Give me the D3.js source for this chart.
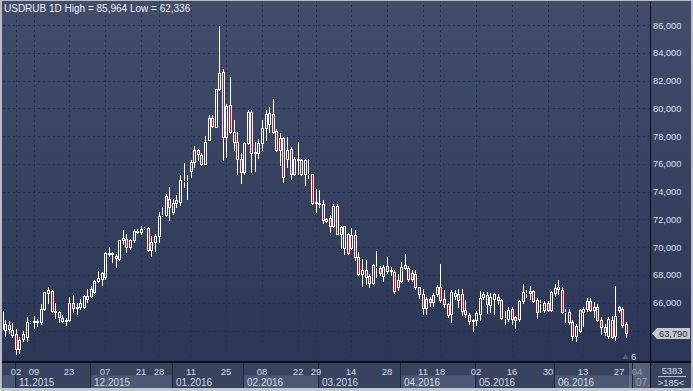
<!DOCTYPE html>
<html><head><meta charset="utf-8">
<script src="https://cdn.jsdelivr.net/npm/d3@7"></script>
<style>html,body{margin:0;padding:0;background:#2d3857;overflow:hidden}svg{display:block}text{font-family:"Liberation Sans",Arial,sans-serif}</style>
</head><body><svg id="c" width="693" height="391"></svg>
<script>
const dates = [
"2015-10-27","2015-10-28","2015-10-29","2015-10-30",
"2015-11-02","2015-11-03","2015-11-04","2015-11-05","2015-11-06","2015-11-09","2015-11-10","2015-11-11","2015-11-12","2015-11-13","2015-11-16","2015-11-17","2015-11-18","2015-11-19","2015-11-20","2015-11-23","2015-11-24","2015-11-25","2015-11-26","2015-11-27","2015-11-30",
"2015-12-01","2015-12-02","2015-12-03","2015-12-04","2015-12-07","2015-12-08","2015-12-09","2015-12-10","2015-12-11","2015-12-14","2015-12-15","2015-12-16","2015-12-17","2015-12-18","2015-12-21","2015-12-22","2015-12-23","2015-12-24","2015-12-25","2015-12-28","2015-12-29","2015-12-30","2015-12-31",
"2016-01-04","2016-01-05","2016-01-06","2016-01-07","2016-01-08","2016-01-11","2016-01-12","2016-01-13","2016-01-14","2016-01-15","2016-01-18","2016-01-19","2016-01-20","2016-01-21","2016-01-22","2016-01-25","2016-01-26","2016-01-27","2016-01-28","2016-01-29",
"2016-02-01","2016-02-02","2016-02-03","2016-02-04","2016-02-05","2016-02-08","2016-02-09","2016-02-10","2016-02-11","2016-02-12","2016-02-15","2016-02-16","2016-02-17","2016-02-18","2016-02-19","2016-02-22","2016-02-23","2016-02-24","2016-02-25","2016-02-26","2016-02-29",
"2016-03-01","2016-03-02","2016-03-03","2016-03-04","2016-03-07","2016-03-08","2016-03-09","2016-03-10","2016-03-11","2016-03-14","2016-03-15","2016-03-16","2016-03-17","2016-03-18","2016-03-21","2016-03-22","2016-03-23","2016-03-24","2016-03-25","2016-03-28","2016-03-29","2016-03-30","2016-03-31",
"2016-04-01","2016-04-04","2016-04-05","2016-04-06","2016-04-07","2016-04-08","2016-04-11","2016-04-12","2016-04-13","2016-04-14","2016-04-15","2016-04-18","2016-04-19","2016-04-20","2016-04-21","2016-04-22","2016-04-25","2016-04-26","2016-04-27","2016-04-28","2016-04-29",
"2016-05-02","2016-05-03","2016-05-04","2016-05-05","2016-05-06","2016-05-09","2016-05-10","2016-05-11","2016-05-12","2016-05-13","2016-05-16","2016-05-17","2016-05-18","2016-05-19","2016-05-20","2016-05-23","2016-05-24","2016-05-25","2016-05-26","2016-05-27","2016-05-30","2016-05-31",
"2016-06-01","2016-06-02","2016-06-03","2016-06-06","2016-06-07","2016-06-08","2016-06-09","2016-06-10","2016-06-13","2016-06-14","2016-06-15","2016-06-16","2016-06-17","2016-06-20","2016-06-21","2016-06-22","2016-06-23","2016-06-24","2016-06-27","2016-06-28","2016-06-29"
];
const futureDates = ["2016-06-30","2016-07-01","2016-07-04","2016-07-05","2016-07-06","2016-07-07"];

const open = [
64.1,64.05,64.41,63.69,63.74,62.7,63.37,63.5,64.63,64.6,
64.65,64.63,65.54,66.67,66.81,65.37,65.3,64.87,64.7,
64.77,65.97,65.61,65.66,65.66,66.26,66.45,66.74,67.58,67.7,
67.82,69.55,69.5,69.39,69.14,70.51,70.59,69.99,70.51,71.19,
71.07,71.35,71.36,69.82,70.35,70.78,72.3,72.32,73.5,72.54,
73.19,73.26,74.78,74.75,75.5,76.14,76.99,76.65,76.02,77.75,
79.27,78.67,81.36,82.58,77.95,80.23,78.3,77.6,76.38,75.42,
77.47,79.75,76.8,76.8,77.5,78.6,78.9,79.6,78.4,77.0,
77.85,76.38,77.1,75.3,76.3,76.26,75.27,75.3,75.25,73.2,
73.19,73.1,72.04,72.09,71.5,73.0,70.98,69.97,70.98,69.97,
70.9,69.3,68.1,68.38,67.9,67.42,68.6,68.5,67.93,68.62,
68.3,68.2,67.1,67.57,68.7,68.53,67.7,68.05,67.1,66.65,
65.64,66.29,66.05,66.65,67.13,66.24,65.88,65.16,66.72,66.17,
66.65,65.5,65.1,64.7,64.73,65.2,66.4,66.56,65.86,66.27,
66.44,66.2,64.9,64.83,65.55,64.95,64.83,66.1,66.7,66.68,
66.82,66.2,65.96,65.5,66.0,65.48,66.68,66.97,66.92,65.3,
65.3,64.59,63.63,63.99,65.3,65.55,66.1,65.48,65.67,64.76,
64.28,63.63,64.76,63.63,65.72,65.55,64.47
];
const high = [
65.55,64.77,64.7,64.53,64.1,63.5,63.98,65.0,64.7,65.06,
64.82,65.9,66.79,67.1,66.9,65.97,65.42,65.1,64.87,
66.38,66.55,66.0,66.26,66.55,66.98,67.22,67.63,68.3,68.23,
69.63,69.99,69.67,69.51,70.54,71.26,70.95,70.59,71.31,71.3,
71.55,71.43,71.43,70.83,70.95,72.51,72.87,73.83,74.34,73.5,
73.74,75.18,76.07,75.2,76.26,77.27,77.1,76.8,78.0,79.5,
79.5,81.4,85.96,82.8,80.3,82.27,79.15,78.3,76.75,77.6,
79.9,79.9,77.6,77.8,79.15,79.9,80.1,80.64,78.5,78.2,
77.95,77.95,77.2,76.5,77.6,76.38,76.38,76.38,75.3,74.2,
74.1,73.38,72.1,72.3,73.1,73.1,71.5,71.55,71.03,71.4,
71.22,69.66,69.18,69.1,68.1,68.77,69.7,68.62,68.7,69.3,
68.55,68.33,68.1,68.94,69.5,68.62,68.38,68.33,67.13,67.0,
66.41,66.41,66.7,67.25,68.77,66.9,65.98,66.94,66.94,67.0,
67.0,66.17,65.26,64.85,65.4,66.84,66.77,66.75,66.7,66.68,
66.63,66.27,65.43,65.67,65.67,65.07,66.2,67.35,66.92,67.23,
66.92,66.34,66.2,66.15,66.15,66.87,67.35,67.66,67.1,65.55,
65.55,64.76,64.47,65.55,65.67,66.34,66.34,66.03,65.91,64.95,
64.47,64.95,65.07,67.23,65.79,65.72,64.59
];
const low = [
63.98,63.62,63.81,63.5,62.34,62.41,63.25,63.25,64.55,64.17,
64.34,64.46,65.49,65.97,65.3,64.87,64.63,64.58,64.41,
64.7,65.3,65.18,65.54,65.59,66.07,66.38,66.67,67.46,67.27,
67.7,69.34,68.95,68.59,69.07,70.23,69.67,69.87,70.35,71.0,
70.95,71.31,69.75,69.34,69.75,70.39,72.25,72.27,71.99,72.37,
72.9,73.02,74.34,73.5,75.06,75.78,76.26,75.9,75.97,77.7,
78.67,78.62,81.3,76.26,76.5,78.2,76.99,75.3,74.6,75.3,
77.4,75.42,75.5,76.4,76.99,77.75,78.3,78.2,76.9,75.9,
74.7,75.78,74.94,75.18,75.3,75.18,74.47,75.0,73.14,72.5,
72.9,71.75,71.8,71.1,71.46,70.93,69.95,69.54,69.5,69.9,
69.06,67.98,67.18,67.37,67.13,67.33,67.86,67.98,67.6,68.14,
67.98,66.7,66.94,67.5,68.46,67.6,67.6,67.0,66.36,65.16,
65.16,65.8,65.8,66.5,66.05,65.7,64.97,64.6,66.29,65.7,
65.1,64.97,64.44,63.96,64.37,64.73,66.29,65.24,65.3,65.19,
65.9,64.83,64.5,64.7,64.5,64.18,64.7,65.96,66.4,66.27,
66.03,64.9,65.3,65.3,65.38,65.43,66.5,66.63,65.24,64.59,
64.47,63.3,63.26,63.87,64.35,65.43,65.43,64.95,64.66,63.75,
63.7,63.46,63.46,63.3,65.3,64.27,63.55
];
const close = [
65.4,64.5,64.1,64.02,62.7,63.3,63.74,64.63,64.6,64.65,
64.62,65.54,66.74,66.91,65.37,65.35,64.94,64.7,64.77,
65.97,65.61,65.66,65.97,66.5,66.45,66.98,67.58,67.75,68.13,
69.58,69.5,69.55,69.19,70.51,70.63,70.03,70.51,71.19,71.07,
71.31,71.36,69.82,70.39,70.83,72.27,72.32,73.71,72.9,73.19,
73.38,74.82,74.75,74.73,76.14,76.99,76.7,76.02,77.61,79.27,
78.71,81.36,82.56,77.95,80.16,78.3,77.6,76.38,75.42,77.47,
79.75,76.8,76.85,77.5,78.55,79.6,79.65,78.3,77.0,77.85,
75.06,76.99,75.3,76.38,76.38,75.27,76.26,75.25,73.19,73.24,
73.09,71.99,71.87,71.5,73.0,70.98,71.46,71.5,69.59,70.9,
69.3,68.1,68.38,67.86,67.42,68.7,68.58,68.14,68.58,68.26,
68.33,66.85,67.65,68.58,68.53,67.7,68.17,67.1,66.65,65.64,
66.29,66.05,66.53,67.13,66.17,65.88,65.1,66.77,66.46,66.65,
65.4,65.16,64.68,64.78,65.26,66.34,66.65,65.9,66.44,66.6,
66.2,64.9,64.93,65.48,64.83,64.78,66.15,66.75,66.73,66.82,
66.15,65.36,66.0,65.96,65.48,66.75,67.06,67.1,65.3,65.33,
64.59,63.63,64.35,65.48,65.55,66.15,65.48,65.72,64.76,64.28,
63.87,64.83,63.55,65.07,65.48,64.42,63.79
];

const yTicks = [64,66,68,70,72,74,76,78,80,82,84,86];
const yLabelTicks = [66,68,70,72,74,76,78,80,82,84,86];
const dayTicks = ["2015-11-02","2015-11-09","2015-11-23","2015-12-07","2015-12-21","2015-12-28","2016-01-11","2016-01-25","2016-02-08","2016-02-22","2016-02-29","2016-03-14","2016-03-28","2016-04-11","2016-04-18","2016-05-02","2016-05-16","2016-05-30","2016-06-13","2016-06-27","2016-07-04"];
const monthStarts = ["2015-10-27","2015-11-02","2015-12-01","2016-01-04","2016-02-01","2016-03-01","2016-04-01","2016-05-02","2016-06-01","2016-07-01"];
const monthLabels = ["","11.2015","12.2015","01.2016","02.2016","03.2016","04.2016","05.2016","06.2016","07.2016"];
const titleText = "USDRUB 1D High = 85,964 Low = 62,336";
const lastPrice = 63.79;
const cornerTop = "5383", cornerBottom = ">185<", shiftText = "6";

const svg = d3.select("#c");
const defs = svg.append("defs");
const g1 = defs.append("linearGradient").attr("id","bg").attr("x1",0).attr("y1",0).attr("x2",0).attr("y2",1);
g1.append("stop").attr("offset","0%").attr("stop-color","#414d6a");
g1.append("stop").attr("offset","100%").attr("stop-color","#2a3555");
defs.append("clipPath").attr("id","plotclip").append("rect").attr("x",3).attr("y",0).attr("width",647).attr("height",361);

svg.append("rect").attr("width",693).attr("height",391).attr("fill","url(#bg)");

const allDates = dates.concat(futureDates);
const step = 3.568;
const x = d3.scalePoint().domain(allDates).range([1.6, 1.6 + (allDates.length-1)*step]);
const y = d3.scaleLinear().domain([64,86]).range([330.5,25]);
const X = d => Math.round(x(d));
const Y = v => Math.round(y(v));

const fmt = d3.formatLocale({decimal:",",thousands:" ",grouping:[3],currency:["",""]}).format(".3f");

// grid
const grid = svg.append("g").attr("stroke","#1c3360").attr("stroke-width",1).attr("stroke-dasharray","2,3");
grid.selectAll("line.h").data(yTicks).join("line")
  .attr("x1",3).attr("x2",650).attr("y1",d=>Y(d)+0.5).attr("y2",d=>Y(d)+0.5);
grid.selectAll("line.v").data(dayTicks).join("line")
  .attr("y1",0).attr("y2",361).attr("x1",d=>X(d)+0.5).attr("x2",d=>X(d)+0.5);

// title
svg.append("text").attr("x",4).attr("y",12).attr("fill","#f2f2f2").attr("font-size","10px").text(titleText);

// candles
const idx = d3.range(dates.length);
const cg = svg.append("g").attr("clip-path","url(#plotclip)");
cg.selectAll("line.wu").data(idx).join("line")
  .attr("x1",i=>X(dates[i])+0.5).attr("x2",i=>X(dates[i])+0.5)
  .attr("y1",i=>Y(high[i])).attr("y2",i=>Y(Math.max(open[i],close[i])))
  .attr("stroke","#fff");
cg.selectAll("line.wd").data(idx).join("line")
  .attr("x1",i=>X(dates[i])+0.5).attr("x2",i=>X(dates[i])+0.5)
  .attr("y1",i=>Y(Math.min(open[i],close[i]))+1).attr("y2",i=>Y(low[i])+1)
  .attr("stroke","#fff");
cg.selectAll("rect.b").data(idx).join("rect")
  .attr("x",i=>X(dates[i])-0.5).attr("width",2)
  .attr("y",i=>Y(Math.max(open[i],close[i]))+0.5)
  .attr("height",i=>Math.max(0, Y(Math.min(open[i],close[i])) - Y(Math.max(open[i],close[i]))))
  .attr("fill",i=>close[i]<open[i] ? "#ff0000" : "none")
  .attr("stroke","#fff").attr("stroke-width",1);

// bottom axis panel
svg.append("rect").attr("x",0).attr("y",363).attr("width",693).attr("height",28).attr("fill","#37435f");
const mx = monthStarts.map((d,i)=> i===0 ? 3 : X(d)-1);
const bands = monthStarts.map((d,i)=>({i, x0: mx[i], x1: i < monthStarts.length-1 ? mx[i+1] : 650}));
svg.selectAll("rect.mb").data(bands.filter(b=>b.i%2===0)).join("rect")
  .attr("x",b=>b.x0).attr("width",b=>b.x1-b.x0).attr("y",375.5).attr("height",12.5).attr("fill","#4d5974");
const fx = X(futureDates[0])-1;
svg.append("rect").attr("x",fx).attr("y",363).attr("width",650-fx).attr("height",25).attr("fill","#7c8699").attr("opacity",0.45);
svg.selectAll("line.ms").data(bands.slice(1)).join("line")
  .attr("x1",b=>b.x0+0.5).attr("x2",b=>b.x0+0.5).attr("y1",363).attr("y2",388).attr("stroke","#1d263b");

defs.append("clipPath").attr("id","axclip").append("rect").attr("x",0).attr("y",362).attr("width",650).attr("height",29);
const ax = svg.append("g").attr("clip-path","url(#axclip)");
ax.selectAll("text.d").data(dayTicks).join("text")
  .attr("x",d=>X(d)).attr("y",374.5).attr("text-anchor","middle").attr("font-size","9.5px")
  .attr("fill",d=> futureDates.includes(d) ? "#9aa3b4" : "#d4dcea").text(d=>d.slice(8));
const mt = ax.selectAll("text.m").data(bands.filter(b=>monthLabels[b.i])).join("text")
  .attr("x",b=>b.x0+4).attr("y",385.5).attr("font-size","10px")
  .attr("fill",b=> b.i===monthStarts.length-1 ? "#9aa3b4" : "#d4dcea").text(b=>monthLabels[b.i]);
mt.each(function(b){
  const el = this; let s = monthLabels[b.i];
  while (s.length > 1 && b.x0 + 4 + el.getComputedTextLength() > 652) { s = s.slice(0,-1); el.textContent = s; }
});

// separators
svg.append("rect").attr("x",0).attr("y",361).attr("width",693).attr("height",2).attr("fill","#0b0f18");
svg.append("rect").attr("x",650).attr("y",0).attr("width",1).attr("height",391).attr("fill","#0b0f18");

// y axis labels
svg.selectAll("text.y").data(yLabelTicks).join("text")
  .attr("x",653).attr("y",d=>y(d)+3.5).attr("font-size","9.3px").attr("fill","#d8e0ee").text(d=>fmt(d));

// price tag
const py = y(lastPrice);
svg.append("path").attr("d",`M652,${py} L657,${py-5.5} L690,${py-5.5} L690,${py+5.5} L657,${py+5.5} Z`).attr("fill","#c5c8ce");
svg.append("text").attr("x",659).attr("y",py+3.5).attr("font-size","9.3px").attr("fill","#1b2436").text(fmt(lastPrice));

// shift marker
svg.append("path").attr("d","M622.5,359 L625.5,354 L628.5,359 Z").attr("fill","#56607a");
svg.append("text").attr("x",631).attr("y",360).attr("font-size","9.5px").attr("fill","#d4dcea").text(shiftText);

// corner box
svg.append("text").attr("x",672).attr("y",374).attr("text-anchor","middle").attr("font-size","9.3px").attr("fill","#d4dcea").text(cornerTop);
svg.append("line").attr("x1",658).attr("x2",686).attr("y1",376.5).attr("y2",376.5).attr("stroke","#b8c0d0");
svg.append("text").attr("x",671).attr("y",386).attr("text-anchor","middle").attr("font-size","9.3px").attr("fill","#d4dcea").text(cornerBottom);

// outer frame
svg.append("rect").attr("x",0).attr("y",0).attr("width",693).attr("height",1).attr("fill","#b9bdc5");
svg.append("rect").attr("x",0).attr("y",0).attr("width",2).attr("height",391).attr("fill","#b9bdc5");
svg.append("rect").attr("x",691).attr("y",0).attr("width",2).attr("height",391).attr("fill","#b9bdc5");
svg.append("rect").attr("x",0).attr("y",388).attr("width",693).attr("height",3).attr("fill","#c3c7ce");
</script>
</body></html>
